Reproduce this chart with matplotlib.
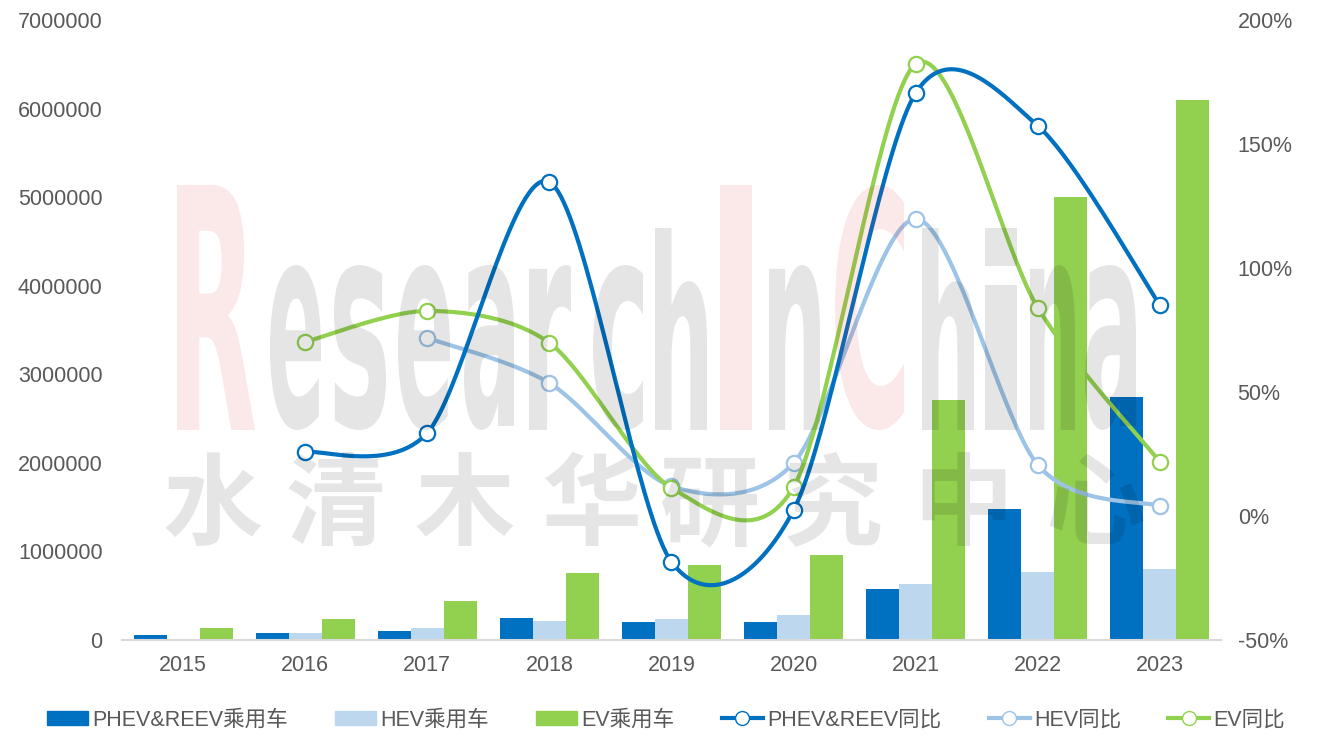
import numpy as np
import matplotlib.pyplot as plt
from matplotlib.textpath import TextPath
from matplotlib.font_manager import FontProperties
from matplotlib.patches import PathPatch, Patch
from matplotlib.lines import Line2D
from matplotlib.transforms import Affine2D, IdentityTransform
from matplotlib.ticker import FuncFormatter

plt.rcParams['font.family'] = ['Liberation Sans', 'Noto Sans CJK SC', 'DejaVu Sans']

years = ['2015', '2016', '2017', '2018', '2019', '2020', '2021', '2022', '2023']
phev = [56000, 82000, 105000, 248000, 203000, 203000, 576000, 1479000, 2744000]
hev = [0, 82000, 135000, 214000, 237000, 282000, 632000, 768000, 802000]
ev = [135000, 237000, 440000, 757000, 847000, 960000, 2710000, 5000000, 6097000]
phev_yoy = [np.nan, 25.8, 33.5, 134.7, -18.5, 2.4, 170.6, 157.3, 85.0]
hev_yoy = [np.nan, np.nan, 71.8, 53.6, 12.0, 21.4, 119.8, 20.6, 4.1]
ev_yoy = [np.nan, 70.2, 82.7, 69.8, 11.3, 11.7, 182.3, 83.9, 21.8]

c_phev = '#0070C0'
c_hev = '#BDD7EE'
c_ev = '#92D050'
c_hev_line = '#9DC3E6'
grey = '#595959'


def smooth(x, y, n=40, k=0.147):
    # excel style smoothed line (bezier through the points)
    x = np.asarray(x, float)
    y = np.asarray(y, float)
    ok = ~np.isnan(y)
    P = np.column_stack([x[ok], y[ok]])
    out = []
    t = np.linspace(0, 1, n)[:, None]
    for i in range(len(P) - 1):
        p0 = P[max(i - 1, 0)]
        p1 = P[i]
        p2 = P[i + 1]
        p3 = P[min(i + 2, len(P) - 1)]
        c1 = p1 + (p2 - p0) * k
        c2 = p2 - (p3 - p1) * k
        seg = (1 - t)**3 * p1 + 3 * (1 - t)**2 * t * c1 + 3 * (1 - t) * t**2 * c2 + t**3 * p2
        out.append(seg if i == 0 else seg[1:])
    s = np.vstack(out)
    return s[:, 0], s[:, 1]


W, H = 1324, 747
fig = plt.figure(figsize=(W / 100, H / 100), dpi=100)
ax = fig.add_axes([122 / W, 1 - 640 / H, 1099 / W, 620 / H])
ax2 = ax.twinx()

x = np.arange(len(years))
bw = 0.27
ax.bar(x - bw, phev, bw, color=c_phev)
ax.bar(x, hev, bw, color=c_hev)
ax.bar(x + bw, ev, bw, color=c_ev)

ax.set_xlim(-0.5, len(years) - 0.5)
ax.set_ylim(0, 7000000)
ax.set_yticks(np.arange(0, 7000001, 1000000))
ax.yaxis.set_major_formatter(FuncFormatter(lambda v, p: '%d' % v))
ax.set_xticks(x)
ax.set_xticklabels(years)

for yoy, col in [(hev_yoy, c_hev_line), (ev_yoy, c_ev), (phev_yoy, c_phev)]:
    sx, sy = smooth(x, yoy)
    ax2.plot(sx, sy, color=col, lw=3, solid_capstyle='round')
    yy = np.array(yoy)
    ok = ~np.isnan(yy)
    ax2.plot(x[ok], yy[ok], 'o', ms=11, mfc='white', mec=col, mew=1.6)

ax2.set_ylim(-50, 200)
ax2.set_yticks([-50, 0, 50, 100, 150, 200])
ax2.yaxis.set_major_formatter(FuncFormatter(lambda v, p: '%d%%' % v))

for a in (ax, ax2):
    for s in a.spines.values():
        s.set_visible(False)
    a.tick_params(length=0, labelsize=15.5, labelcolor=grey)
ax.spines['bottom'].set_visible(True)
ax.spines['bottom'].set_color('#D9D9D9')
ax.spines['bottom'].set_linewidth(1.5)
ax.tick_params(axis='y', pad=14)
ax.tick_params(axis='x', pad=11)
ax2.tick_params(axis='y', pad=12)

handles = [
    Patch(color=c_phev, label='PHEV&REEV乘用车'),
    Patch(color=c_hev, label='HEV乘用车'),
    Patch(color=c_ev, label='EV乘用车'),
    Line2D([], [], color=c_phev, lw=3, marker='o', ms=10, mfc='white', mec=c_phev, label='PHEV&REEV同比'),
    Line2D([], [], color=c_hev_line, lw=3, marker='o', ms=10, mfc='white', mec=c_hev_line, label='HEV同比'),
    Line2D([], [], color=c_ev, lw=3, marker='o', ms=10, mfc='white', mec=c_ev, label='EV同比'),
]
fig.legend(handles=handles, loc='center', bbox_to_anchor=(666 / W, 1 - 720 / H), ncol=6,
           frameon=False, fontsize=15.5, labelcolor=grey, handlelength=1.9,
           handleheight=0.6, handletextpad=0.2, columnspacing=2.2)

# watermark
fp = FontProperties(family='DejaVu Sans', weight='bold')
wm = [('R', 177, 255, 185, 'r'), ('e', 270, 321, 265, 'g'), ('s', 334, 386, 265, 'g'),
      ('e', 398, 450, 265, 'g'), ('a', 464, 514, 265, 'g'), ('r', 529, 571, 265, 'g'),
      ('c', 593, 643, 265, 'g'), ('h', 655, 707, 228, 'g'), ('I', 720, 752, 185, 'r'),
      ('n', 769, 820, 265, 'g'), ('C', 835, 904, 185, 'r'), ('h', 922, 974, 228, 'g'),
      ('i', 985, 1017, 228, 'g'), ('n', 1030, 1075, 265, 'g'), ('a', 1085, 1136, 265, 'g')]
for ch, x0, x1, top, kind in wm:
    tp = TextPath((0, 0), ch, size=100, prop=fp)
    ext = tp.get_extents()
    tr = (Affine2D().translate(-ext.x0, -ext.y0)
          .scale((x1 - x0) / ext.width, (430 - top) / ext.height)
          .translate(x0, H - 430))
    col = '#E02020' if kind == 'r' else 'black'
    fig.add_artist(PathPatch(tr.transform_path(tp), transform=IdentityTransform(),
                             fc=col, ec='none', alpha=0.1, zorder=5))

cn = ['水', '清', '木', '华', '研', '究', '中', '心']
cn_x = [213, 336, 464, 591, 710, 832, 963, 1095]
for ch, cx in zip(cn, cn_x):
    fig.text(cx / W, 1 - 508 / H, ch, fontsize=72, family='Noto Sans CJK SC', weight='bold',
             color='black', alpha=0.1, ha='center', va='center', zorder=5)

fig.savefig('out.png', dpi=100)
